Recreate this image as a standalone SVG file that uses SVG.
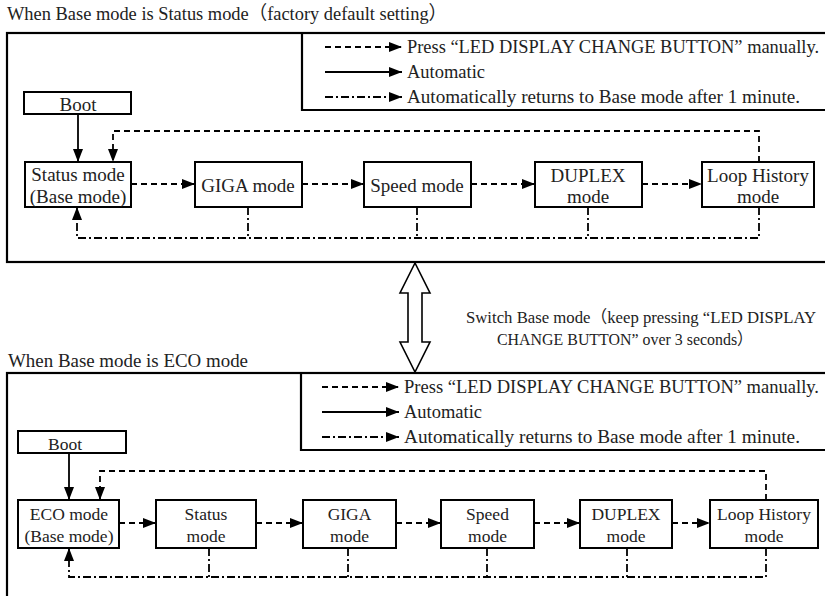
<svg xmlns="http://www.w3.org/2000/svg" width="825" height="596" viewBox="0 0 825 596">
<style>
text{font-family:"Liberation Serif","Noto Sans CJK JP",serif;fill:#222}
.t{font-size:19px}
.lg{font-size:18px}
.sw{font-size:17px}
.n1{font-size:19px;text-anchor:middle}
.n2{font-size:17.5px;text-anchor:middle}
.panel{fill:none;stroke:#000;stroke-width:2.2}
.box{fill:#fff;stroke:#000;stroke-width:2}
.sol{fill:none;stroke:#000;stroke-width:1.8}
.das{fill:none;stroke:#000;stroke-width:1.8;stroke-dasharray:6 4}
.dd{fill:none;stroke:#000;stroke-width:1.8;stroke-dasharray:8 3 2 3}
</style>
<defs>
<marker id="ah" markerUnits="userSpaceOnUse" markerWidth="13" markerHeight="10" refX="13" refY="5" orient="auto">
<path d="M0,0 L13,5 L0,10 z" fill="#000"/>
</marker>
</defs>

<!-- Top panel -->
<g id="top-panel">
<text class="t" x="7" y="20" textLength="440" lengthAdjust="spacingAndGlyphs">When Base mode is Status mode（factory default setting）</text>
<rect class="panel" x="7" y="33" width="830" height="229"/>
<path class="panel" d="M302,33 V110 H830"/>
</g>
<g id="top-legend">
<line class="das" x1="325" y1="47" x2="402" y2="47" marker-end="url(#ah)"/>
<line class="sol" x1="325" y1="72" x2="402" y2="72" marker-end="url(#ah)"/>
<line class="dd" x1="325" y1="97" x2="402" y2="97" marker-end="url(#ah)"/>
<text class="lg" x="407" y="53" textLength="412" lengthAdjust="spacingAndGlyphs">Press “LED DISPLAY CHANGE BUTTON” manually.</text>
<text class="lg" x="407" y="78" textLength="78" lengthAdjust="spacingAndGlyphs">Automatic</text>
<text class="lg" x="407" y="103" textLength="393" lengthAdjust="spacingAndGlyphs">Automatically returns to Base mode after 1 minute.</text>
</g>
<g id="top-boot"><rect class="box" x="24" y="92" width="107" height="22"/><text class="n1" x="78" y="111">Boot</text></g>
<g id="top-status"><rect class="box" x="25" y="162" width="106" height="45"/><text class="n1" x="78" y="181">Status mode</text><text class="n1" x="78" y="203">(Base mode)</text></g>
<g id="top-giga"><rect class="box" x="195" y="162" width="107" height="45"/><text class="n1" x="248" y="192">GIGA mode</text></g>
<g id="top-speed"><rect class="box" x="364" y="162" width="107" height="45"/><text class="n1" x="417" y="192">Speed mode</text></g>
<g id="top-duplex"><rect class="box" x="535" y="162" width="107" height="45"/><text class="n1" x="588" y="182">DUPLEX</text><text class="n1" x="588" y="203">mode</text></g>
<g id="top-loop"><rect class="box" x="702" y="162" width="112" height="45"/><text class="n1" x="758" y="182">Loop History</text><text class="n1" x="758" y="203">mode</text></g>

<g id="top-connectors">
<line class="sol" x1="78" y1="114" x2="78" y2="162" marker-end="url(#ah)"/>
<line class="das" x1="131" y1="184" x2="195" y2="184" marker-end="url(#ah)"/>
<line class="das" x1="302" y1="184" x2="364" y2="184" marker-end="url(#ah)"/>
<line class="das" x1="471" y1="184" x2="535" y2="184" marker-end="url(#ah)"/>
<line class="das" x1="642" y1="184" x2="702" y2="184" marker-end="url(#ah)"/>
<path class="das" d="M759,162 V131 H113 V162" marker-end="url(#ah)"/>
<path class="dd" d="M759,207 V238 H77 V207" marker-end="url(#ah)"/>
<line class="dd" x1="248" y1="207" x2="248" y2="238"/>
<line class="dd" x1="417" y1="207" x2="417" y2="238"/>
<line class="dd" x1="588" y1="207" x2="588" y2="238"/>
</g>

<!-- Switch arrow -->
<g id="switch">
<path d="M415,263 L400,293 L408,293 L408,342 L400,342 L415,372 L430,342 L422,342 L422,293 L430,293 Z" fill="#fff" stroke="#000" stroke-width="1.6" stroke-linejoin="miter"/>
<text class="sw" x="466" y="323" textLength="350" lengthAdjust="spacingAndGlyphs">Switch Base mode（keep pressing “LED DISPLAY</text>
<text class="sw" x="497" y="345" textLength="256" lengthAdjust="spacingAndGlyphs">CHANGE BUTTON” over 3 seconds）</text>
</g>

<!-- Bottom panel -->
<g id="bottom-panel">
<text class="t" x="8" y="367" textLength="240" lengthAdjust="spacingAndGlyphs">When Base mode is ECO mode</text>
<rect class="panel" x="7" y="373" width="830" height="240"/>
<path class="panel" d="M301,373 V450 H830"/>
</g>
<g id="bottom-legend">
<line class="das" x1="322" y1="387" x2="399" y2="387" marker-end="url(#ah)"/>
<line class="sol" x1="322" y1="412" x2="399" y2="412" marker-end="url(#ah)"/>
<line class="dd" x1="322" y1="437" x2="399" y2="437" marker-end="url(#ah)"/>
<text class="lg" x="404" y="393" textLength="415" lengthAdjust="spacingAndGlyphs">Press “LED DISPLAY CHANGE BUTTON” manually.</text>
<text class="lg" x="404" y="418" textLength="78" lengthAdjust="spacingAndGlyphs">Automatic</text>
<text class="lg" x="404" y="443" textLength="396" lengthAdjust="spacingAndGlyphs">Automatically returns to Base mode after 1 minute.</text>
</g>
<g id="bottom-boot"><rect class="box" x="18" y="431" width="108" height="22"/><text class="n2" x="65" y="450">Boot</text></g>
<g id="bottom-eco"><rect class="box" x="18" y="500" width="101" height="48"/><text class="n2" x="69" y="520">ECO mode</text><text class="n2" x="69" y="542">(Base mode)</text></g>
<g id="bottom-status"><rect class="box" x="156" y="500" width="100" height="48"/><text class="n2" x="206" y="520">Status</text><text class="n2" x="206" y="542">mode</text></g>
<g id="bottom-giga"><rect class="box" x="303" y="500" width="93" height="48"/><text class="n2" x="349.5" y="520">GIGA</text><text class="n2" x="349.5" y="542">mode</text></g>
<g id="bottom-speed"><rect class="box" x="441" y="500" width="93" height="48"/><text class="n2" x="487.5" y="520">Speed</text><text class="n2" x="487.5" y="542">mode</text></g>
<g id="bottom-duplex"><rect class="box" x="580" y="500" width="92" height="48"/><text class="n2" x="626" y="520">DUPLEX</text><text class="n2" x="626" y="542">mode</text></g>
<g id="bottom-loop"><rect class="box" x="710" y="500" width="108" height="48"/><text class="n2" x="764" y="520">Loop History</text><text class="n2" x="764" y="542">mode</text></g>

<g id="bottom-connectors">
<line class="sol" x1="69" y1="453" x2="69" y2="500" marker-end="url(#ah)"/>
<line class="das" x1="119" y1="523" x2="156" y2="523" marker-end="url(#ah)"/>
<line class="das" x1="256" y1="523" x2="303" y2="523" marker-end="url(#ah)"/>
<line class="das" x1="396" y1="523" x2="441" y2="523" marker-end="url(#ah)"/>
<line class="das" x1="534" y1="523" x2="580" y2="523" marker-end="url(#ah)"/>
<line class="das" x1="672" y1="523" x2="710" y2="523" marker-end="url(#ah)"/>
<path class="das" d="M766,500 V471 H100 V500" marker-end="url(#ah)"/>
<path class="dd" d="M766,548 V577 H69 V548" marker-end="url(#ah)"/>
<line class="dd" x1="209" y1="548" x2="209" y2="577"/>
<line class="dd" x1="348" y1="548" x2="348" y2="577"/>
<line class="dd" x1="487" y1="548" x2="487" y2="577"/>
<line class="dd" x1="627" y1="548" x2="627" y2="577"/>
</g>
</svg>
